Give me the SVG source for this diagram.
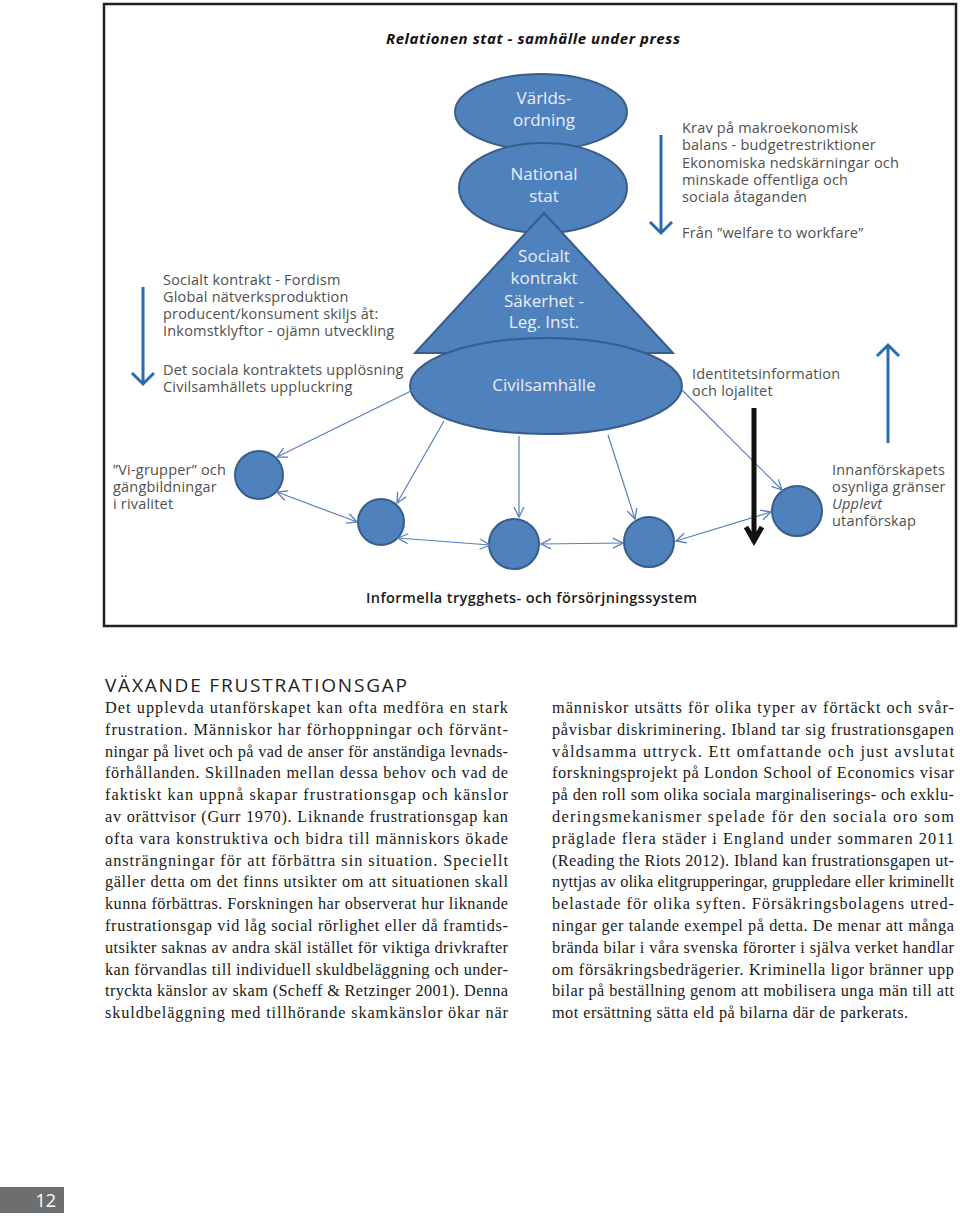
<svg xmlns="http://www.w3.org/2000/svg" width="960" height="1216" viewBox="0 0 960 1216">
<style>
.lbl{font-family:"Open Sans","Noto Sans","DejaVu Sans",sans-serif;font-size:14.5px;fill:#505050;letter-spacing:0.2px}
.shp{fill:#4f81bd;stroke:#385d8a;stroke-width:2}
.stx{font-family:"Open Sans","Noto Sans","DejaVu Sans",sans-serif;font-size:17px;fill:#e8eef7;text-anchor:middle}
.con{fill:none;stroke:#5580b8;stroke-width:1.2}
.barrow{fill:none;stroke:#2b6cb0;stroke-width:3}
.body{font-family:"Liberation Serif","Times New Roman",serif;font-size:16.3px;fill:#1a1a1a}
</style>
<defs>
<marker id="ah" viewBox="0 0 12 12" refX="11" refY="6" markerWidth="12" markerHeight="12" markerUnits="userSpaceOnUse" orient="auto-start-reverse">
<path d="M1,1 L11,6 L1,11" fill="none" stroke="#5580b8" stroke-width="1.3"/>
</marker>
</defs>
<rect width="960" height="1216" fill="#ffffff"/>
<rect x="104" y="4" width="852" height="622" fill="none" stroke="#222" stroke-width="2.5"/>
<text x="386" y="44" textLength="294" lengthAdjust="spacing" style="font-family:'Open Sans','Noto Sans',sans-serif;font-size:15px;font-weight:bold;font-style:italic;fill:#111">Relationen stat - samhälle under press</text>

<g id="varldsordning">
<ellipse class="shp" cx="541" cy="112" rx="86" ry="38"/>
<text class="stx" x="544" y="104">Världs-</text>
<text class="stx" x="544" y="126">ordning</text>
</g>
<g id="nationalstat">
<ellipse class="shp" cx="543" cy="188" rx="84" ry="45"/>
<text class="stx" x="544" y="180">National</text>
<text class="stx" x="544" y="202">stat</text>
</g>
<g id="socialtkontrakt">
<polygon class="shp" points="544,213 673,353 415,353"/>
<text class="stx" x="544" y="262">Socialt</text>
<text class="stx" x="544" y="284">kontrakt</text>
<text class="stx" x="544" y="307">Säkerhet -</text>
<text class="stx" x="544" y="328">Leg. Inst.</text>
</g>
<g id="civilsamhalle">
<ellipse class="shp" cx="546" cy="386" rx="136" ry="48"/>
<text class="stx" x="544" y="391">Civilsamhälle</text>
</g>

<g id="circle1"><circle class="shp" cx="259" cy="475" r="24"/></g>
<g id="circle2"><circle class="shp" cx="381" cy="522" r="23"/></g>
<g id="circle3"><circle class="shp" cx="514" cy="544" r="25"/></g>
<g id="circle4"><circle class="shp" cx="649" cy="542" r="25"/></g>
<g id="circle5"><circle class="shp" cx="797" cy="511" r="25"/></g>

<g id="connectors">
<line class="con" x1="413" y1="390" x2="277" y2="457" marker-end="url(#ah)"/>
<line class="con" x1="444" y1="421" x2="397" y2="503" marker-end="url(#ah)"/>
<line class="con" x1="519" y1="436" x2="519" y2="517" marker-end="url(#ah)"/>
<line class="con" x1="608" y1="435" x2="635" y2="519" marker-end="url(#ah)"/>
<line class="con" x1="682" y1="390" x2="782" y2="490" marker-end="url(#ah)"/>
<line class="con" x1="277" y1="492" x2="357" y2="522" marker-start="url(#ah)" marker-end="url(#ah)"/>
<line class="con" x1="398" y1="538" x2="490" y2="545" marker-start="url(#ah)" marker-end="url(#ah)"/>
<line class="con" x1="541" y1="544" x2="623" y2="543" marker-start="url(#ah)" marker-end="url(#ah)"/>
<line class="con" x1="676" y1="541" x2="771" y2="512" marker-start="url(#ah)" marker-end="url(#ah)"/>
<path class="barrow" d="M661,135 V232 M650,222 L661,233 L672,222"/>
<path class="barrow" d="M143,287 V384 M132,373 L143,384 L154,373"/>
<path class="barrow" d="M888,346 V443 M877,356 L888,345 L899,356"/>
<path d="M754,408 V541 M746,527 L754,541 L762,527" fill="none" stroke="#111" stroke-width="5"/>
</g>

<g id="labels">
<text class="lbl" x="682" y="133">Krav på makroekonomisk</text>
<text class="lbl" x="682" y="150">balans - budgetrestriktioner</text>
<text class="lbl" x="682" y="168">Ekonomiska nedskärningar och</text>
<text class="lbl" x="682" y="185">minskade offentliga och</text>
<text class="lbl" x="682" y="202">sociala åtaganden</text>
<text class="lbl" x="682" y="238">Från ”welfare to workfare”</text>
<text class="lbl" x="163" y="285">Socialt kontrakt - Fordism</text>
<text class="lbl" x="163" y="302">Global nätverksproduktion</text>
<text class="lbl" x="163" y="319">producent/konsument skiljs åt:</text>
<text class="lbl" x="163" y="336">Inkomstklyftor - ojämn utveckling</text>
<text class="lbl" x="163" y="375">Det sociala kontraktets upplösning</text>
<text class="lbl" x="163" y="392">Civilsamhällets uppluckring</text>
<text class="lbl" x="692" y="379">Identitetsinformation</text>
<text class="lbl" x="692" y="396">och lojalitet</text>
<text class="lbl" x="113" y="475">”Vi-grupper” och</text>
<text class="lbl" x="113" y="492">gängbildningar</text>
<text class="lbl" x="113" y="509">i rivalitet</text>
<text class="lbl" x="832" y="475">Innanförskapets</text>
<text class="lbl" x="832" y="492">osynliga gränser</text>
<text class="lbl" x="832" y="509" font-style="italic">Upplevt</text>
<text class="lbl" x="832" y="526">utanförskap</text>
<text x="366" y="603" textLength="331" lengthAdjust="spacing" style="font-family:'Open Sans','Noto Sans',sans-serif;font-size:14.5px;font-weight:600;fill:#1a1a1a">Informella trygghets- och försörjningssystem</text>
</g>

<text x="105" y="692" textLength="303" lengthAdjust="spacing" style="font-family:'Open Sans','Noto Sans',sans-serif;font-size:19px;fill:#222;letter-spacing:1px">VÄXANDE FRUSTRATIONSGAP</text>

<g class="body">
<text x="105" y="713" textLength="403" lengthAdjust="spacing">Det upplevda utanförskapet kan ofta medföra en stark</text>
<text x="105" y="735" textLength="403" lengthAdjust="spacing">frustration. Människor har förhoppningar och förvänt-</text>
<text x="105" y="757" textLength="403" lengthAdjust="spacing">ningar på livet och på vad de anser för anständiga levnads-</text>
<text x="105" y="778" textLength="403" lengthAdjust="spacing">förhållanden. Skillnaden mellan dessa behov och vad de</text>
<text x="105" y="800" textLength="403" lengthAdjust="spacing">faktiskt kan uppnå skapar frustrationsgap och känslor</text>
<text x="105" y="822" textLength="403" lengthAdjust="spacing">av orättvisor (Gurr 1970). Liknande frustrationsgap kan</text>
<text x="105" y="844" textLength="403" lengthAdjust="spacing">ofta vara konstruktiva och bidra till människors ökade</text>
<text x="105" y="866" textLength="403" lengthAdjust="spacing">ansträngningar för att förbättra sin situation. Speciellt</text>
<text x="105" y="887" textLength="403" lengthAdjust="spacing">gäller detta om det finns utsikter om att situationen skall</text>
<text x="105" y="909" textLength="403" lengthAdjust="spacing">kunna förbättras. Forskningen har observerat hur liknande</text>
<text x="105" y="931" textLength="403" lengthAdjust="spacing">frustrationsgap vid låg social rörlighet eller då framtids-</text>
<text x="105" y="953" textLength="403" lengthAdjust="spacing">utsikter saknas av andra skäl istället för viktiga drivkrafter</text>
<text x="105" y="975" textLength="403" lengthAdjust="spacing">kan förvandlas till individuell skuldbeläggning och under-</text>
<text x="105" y="996" textLength="403" lengthAdjust="spacing">tryckta känslor av skam (Scheff &amp; Retzinger 2001). Denna</text>
<text x="105" y="1018" textLength="403" lengthAdjust="spacing">skuldbeläggning med tillhörande skamkänslor ökar när</text>

<text x="552" y="713" textLength="402" lengthAdjust="spacing">människor utsätts för olika typer av förtäckt och svår-</text>
<text x="552" y="735" textLength="402" lengthAdjust="spacing">påvisbar diskriminering. Ibland tar sig frustrationsgapen</text>
<text x="552" y="757" textLength="402" lengthAdjust="spacing">våldsamma uttryck. Ett omfattande och just avslutat</text>
<text x="552" y="778" textLength="402" lengthAdjust="spacing">forskningsprojekt på London School of Economics visar</text>
<text x="552" y="800" textLength="402" lengthAdjust="spacing">på den roll som olika sociala marginaliserings- och exklu-</text>
<text x="552" y="822" textLength="402" lengthAdjust="spacing">deringsmekanismer spelade för den sociala oro som</text>
<text x="552" y="844" textLength="402" lengthAdjust="spacing">präglade flera städer i England under sommaren 2011</text>
<text x="552" y="866" textLength="402" lengthAdjust="spacing">(Reading the Riots 2012). Ibland kan frustrationsgapen ut-</text>
<text x="552" y="887" textLength="402" lengthAdjust="spacing">nyttjas av olika elitgrupperingar, gruppledare eller kriminellt</text>
<text x="552" y="909" textLength="402" lengthAdjust="spacing">belastade för olika syften. Försäkringsbolagens utred-</text>
<text x="552" y="931" textLength="402" lengthAdjust="spacing">ningar ger talande exempel på detta. De menar att många</text>
<text x="552" y="953" textLength="402" lengthAdjust="spacing">brända bilar i våra svenska förorter i själva verket handlar</text>
<text x="552" y="975" textLength="402" lengthAdjust="spacing">om försäkringsbedrägerier. Kriminella ligor bränner upp</text>
<text x="552" y="996" textLength="402" lengthAdjust="spacing">bilar på beställning genom att mobilisera unga män till att</text>
<text x="552" y="1018" textLength="356" lengthAdjust="spacing">mot ersättning sätta eld på bilarna där de parkerats.</text>
</g>

<rect x="0" y="1187" width="64" height="26" fill="#6d6e70"/>
<text x="56" y="1207" text-anchor="end" style="font-family:'Open Sans','Noto Sans',sans-serif;font-size:18px;fill:#ffffff">12</text>
</svg>
